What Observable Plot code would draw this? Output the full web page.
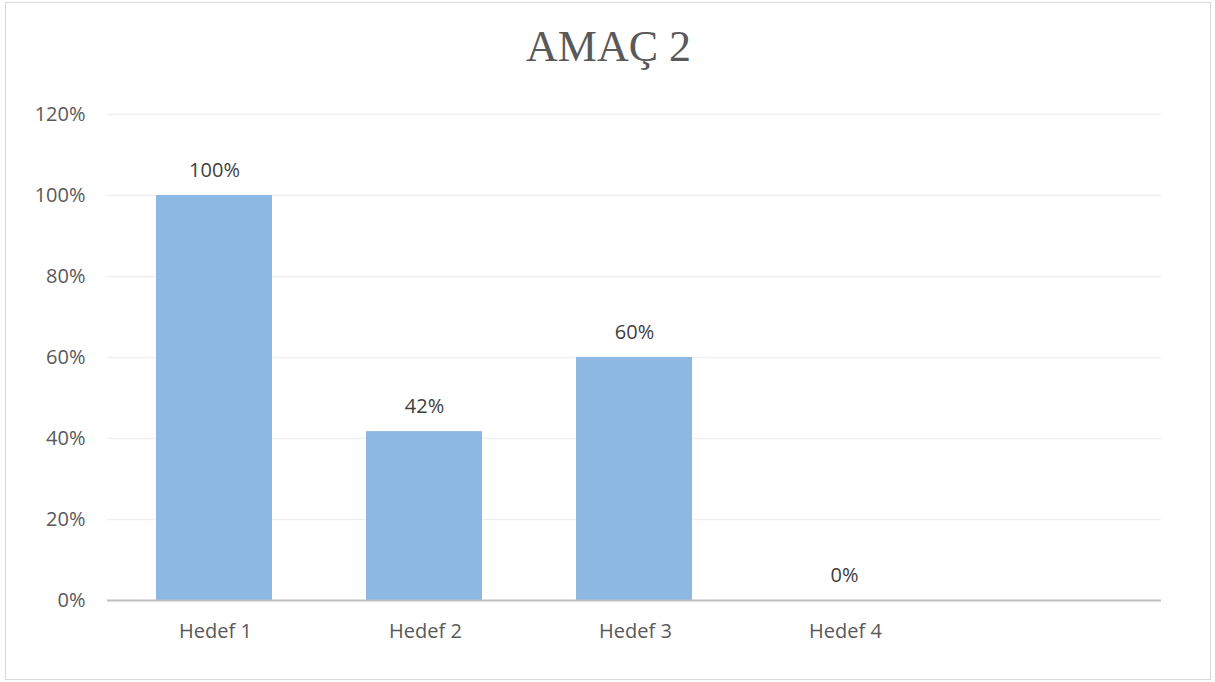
<!DOCTYPE html>
<html>
<head>
<meta charset="utf-8">
<script src="https://cdn.jsdelivr.net/npm/d3@7"></script>
<script src="https://cdn.jsdelivr.net/npm/@observablehq/plot@0.6"></script>
<style>
  html, body { margin: 0; padding: 0; background: #fff; }
  #wrap { position: relative; width: 1215px; height: 682px; overflow: hidden; }
  #frame { position: absolute; left: 5px; top: 2px; width: 1206px; height: 678px; border: 1px solid #d9d9d9; box-sizing: border-box; }
  #title { position: absolute; left: 0; width: 1217px; top: 21px; text-align: center;
           font-family: "Liberation Serif", "DejaVu Serif", serif; font-size: 44px; color: #595959; }
  #chart { position: absolute; left: 0; top: 0; }
</style>
</head>
<body>
<div id="wrap">
  <div id="frame"></div>
  <div id="title">AMAÇ 2</div>
  <div id="chart"></div>
</div>
<script>
const categories = ["Hedef 1", "Hedef 2", "Hedef 3", "Hedef 4"];
const values = [1.00, 0.417, 0.60, 0.00];
const labels = ["100%", "42%", "60%", "0%"];
const yTicks = [0, 0.2, 0.4, 0.6, 0.8, 1.0, 1.2];
const xDomain = [...categories, " "];

const data = categories.map((c, i) => ({ cat: c, value: values[i], label: labels[i] }));

const chart = Plot.plot({
  width: 1215,
  height: 682,
  marginLeft: 107,
  marginRight: 54,
  marginTop: 114,
  marginBottom: 82,
  style: { fontFamily: "'Open Sans', sans-serif", background: "transparent", overflow: "visible" },
  x: { domain: xDomain, paddingInner: 0.447, paddingOuter: 0.2235, label: null },
  y: { domain: [0, 1.2], ticks: yTicks, label: null },
  marks: [
    Plot.gridY(yTicks.filter(t => t > 0), { stroke: "#efefef", strokeOpacity: 1, strokeWidth: 1.5 }),
    Plot.barY(data, { x: "cat", y: "value", fill: "#8DB8E2" }),
    Plot.ruleY([0], { stroke: "#bfbfbf", strokeWidth: 2 }),
    Plot.text(data, { x: "cat", y: "value", text: "label", dy: -25, fill: "#404040", fontSize: 20 }),
    Plot.axisY({ ticks: yTicks, tickFormat: d => Math.round(d * 100) + "%", tickSize: 0, tickPadding: 22, fontSize: 20, fill: "#595959" }),
    Plot.axisX({ tickSize: 0, tickPadding: 23, fontSize: 20, dx: 1, fill: "#595959", style: "letter-spacing: 2px" })
  ]
});
document.getElementById("chart").appendChild(chart);
</script>
</body>
</html>
